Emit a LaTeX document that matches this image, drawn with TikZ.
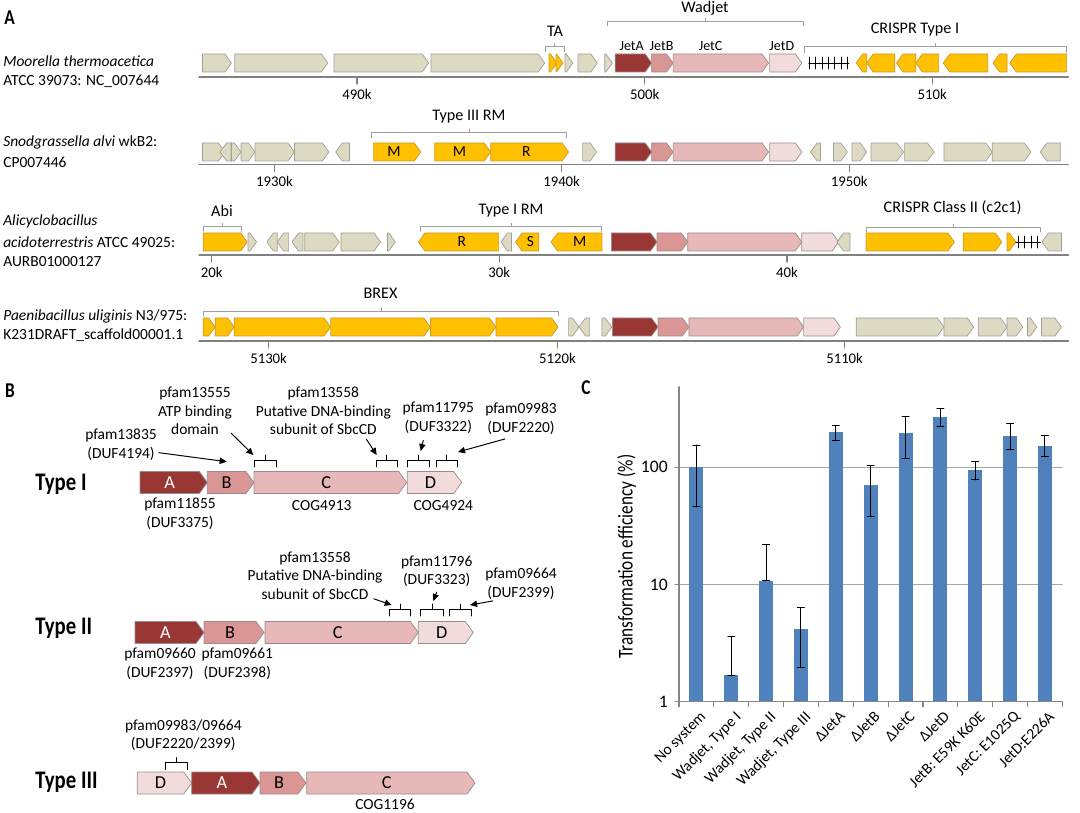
\documentclass[tikz,border=0pt]{standalone}
\usepackage{fontspec}
\setmainfont{Carlito}
\newfontfamily\condfont[FakeStretch=0.82]{Carlito}
\usetikzlibrary{arrows.meta}

\definecolor{genegray}{HTML}{DDD9C3}
\definecolor{geneedge}{HTML}{A19E92}
\definecolor{sysyellow}{HTML}{FFC000}
\definecolor{yellowedge}{HTML}{C99A2E}
\definecolor{jetAcol}{HTML}{993735}
\definecolor{jetBcol}{HTML}{D99694}
\definecolor{jetCcol}{HTML}{E6B9B8}
\definecolor{jetDcol}{HTML}{F2DCDB}
\definecolor{jetedge}{HTML}{9C8A8A}
\definecolor{barblue}{HTML}{4F81BD}
\definecolor{gridgray}{HTML}{A6A6A6}
\definecolor{axisgray}{HTML}{868686}

\tikzset{
  gy/.style={draw=geneedge, fill=genegray, line width=0.5pt},
  yl/.style={draw=yellowedge, fill=sysyellow, line width=0.5pt},
  ja/.style={draw=jetedge, fill=jetAcol, line width=0.5pt},
  jb/.style={draw=jetedge, fill=jetBcol, line width=0.5pt},
  jc/.style={draw=jetedge, fill=jetCcol, line width=0.5pt},
  jd/.style={draw=jetedge, fill=jetDcol, line width=0.5pt},
  genelbl/.style={inner sep=0pt, font=\glfont},
  chrom/.style={draw=gray, line width=0.9pt},
  crarr/.style={draw=black, line width=0.6pt},
  brkA/.style={draw=gray!75, line width=0.6pt},
  brkB/.style={draw=black, line width=0.7pt},
  ptr/.style={-{Triangle[length=5pt,width=4.5pt]}, line width=0.7pt},
  panel/.style={inner sep=0pt, font=\fontsize{15}{17}\condfont\bfseries},
  org/.style={inner sep=0pt, anchor=west, font=\fontsize{11}{13}\selectfont},
  ticklbl/.style={inner sep=0pt, font=\fontsize{10.5}{12}\selectfont},
  syslbl/.style={inner sep=0pt, font=\fontsize{11.5}{13}\selectfont},
  jetlbl/.style={inner sep=0pt, font=\fontsize{10}{12}\selectfont},
  lblB/.style={inner sep=0pt, align=center, font=\fontsize{11}{13.2}\selectfont},
  typelbl/.style={inner sep=0pt, anchor=west, font=\fontsize{18}{20}\condfont\bfseries},
  gridln/.style={draw=gridgray, line width=0.8pt},
  axisC/.style={draw=axisgray, line width=0.8pt},
  barC/.style={fill=barblue},
  errC/.style={draw=black, line width=0.7pt},
  ylblC/.style={inner sep=0pt, anchor=east, font=\fontsize{12.5}{14}\selectfont},
  xlblC/.style={inner sep=0pt, anchor=north east, rotate=45, font=\fontsize{11}{13}\selectfont},
}

\newcounter{genecnt}
% 遺伝子の矢印 [ラベル]{スタイル}{始点x}{先端x}{中心y}
\newcommand{\gene}[5][]{%
  \pgfmathsetmacro{\glen}{#4-(#3)}%
  \pgfmathsetmacro{\hlen}{((\glen>0)*2-1)*min(\genk,abs(\glen))}%
  \pgfmathsetmacro{\xbk}{#4-(\hlen)}%
  \pgfmathsetmacro{\xmid}{(#3+\xbk)/2}%
  \draw[#2] (#3,#5-\genh) -- (\xbk,#5-\genh) -- (#4,#5) -- (\xbk,#5+\genh) -- (#3,#5+\genh) -- cycle;
  \stepcounter{genecnt}%
  \node[genelbl] (gene\arabic{genecnt}) at (\xmid,#5) {#1};%
}
% 括弧 [スタイル]{x1}{x2}{y}{足}{突起}
\newcommand{\sysbrace}[6][]{%
  \draw[#1] (#2,#4+#5) -- (#2,#4) -- (#3,#4) -- (#3,#4+#5);
  \draw[#1] ({(#2+#3)/2},#4) -- ({(#2+#3)/2},#4-#6);
}
% 棒グラフ {番号}{値}{下}{上}
\newcommand{\effbar}[4]{%
  \pgfmathsetmacro{\bx}{679+34.85*(#1+0.5)}%
  \pgfmathsetmacro{\yv}{701.7-117.2*log10(#2)}%
  \pgfmathsetmacro{\ylo}{701.7-117.2*log10(#3)}%
  \pgfmathsetmacro{\yhi}{701.7-117.2*log10(#4)}%
  \fill[barC] (\bx-7,701.7) rectangle (\bx+7,\yv);
  \draw[errC] (\bx,\ylo) -- (\bx,\yhi) (\bx-3.5,\ylo) -- (\bx+3.5,\ylo) (\bx-3.5,\yhi) -- (\bx+3.5,\yhi);
}

\begin{document}
\begin{tikzpicture}[x=0.025cm, y=-0.025cm, line cap=round, line join=round]
\useasboundingbox (0,0) rectangle (1080,813);

% ===== A =====
\node[panel] (labA) at (9.5,18) {A};
\def\genh{9}\def\genk{6.5}\def\glfont{\fontsize{11}{12}\selectfont}

% --- Moorella ---
\node[org] (org1a) at (3,61) {\textit{Moorella thermoacetica}};
\node[org] (org1b) at (3,81.6) {ATCC 39073: NC\_007644};
\draw[chrom] (199,77) -- (1068.4,77);
\draw[chrom] (357,77) -- (357,84) (644.7,77) -- (644.7,84) (932.3,77) -- (932.3,84);
\node[ticklbl] (k490) at (357,94) {490k};
\node[ticklbl] (k500) at (644.7,94) {500k};
\node[ticklbl] (k510) at (932.3,94) {510k};
\gene{gy}{202.5}{231.4}{63}
\gene{gy}{234.8}{327.8}{63}
\gene{gy}{334}{428.7}{63}
\gene{gy}{431}{544.7}{63}
\gene{yl}{549}{557}{63}
\gene{yl}{556}{563}{63}
\gene{gy}{565}{572.8}{63}
\gene{gy}{578}{597.3}{63}
\gene{gy}{604.7}{612.4}{63}
\gene{ja}{615.2}{651.7}{63}
\gene{jb}{651.7}{673.1}{63}
\gene{jc}{673.1}{768.5}{63}
\gene{jd}{769.6}{801.8}{63}
% CRISPR配列
\draw[crarr] (808.8,63) -- (849,63);
\draw[crarr] (809.5,57) -- (809.5,69) (815.9,57) -- (815.9,69) (822.2,57) -- (822.2,69)
  (828.5,57) -- (828.5,69) (834.8,57) -- (834.8,69) (841.5,57) -- (841.5,69) (847.8,57) -- (847.8,69);
\gene{yl}{866.7}{856.2}{63}
\gene{yl}{894.8}{866.7}{63}
\gene{yl}{915.8}{896.5}{63}
\gene{yl}{938.6}{915.8}{63}
\gene{yl}{987.7}{943.2}{63}
\gene{yl}{1007}{993}{63}
\gene{yl}{1066.6}{1009.8}{63}
% ラベル
\sysbrace[brkA]{545.8}{564}{46.6}{5}{3}
\node[syslbl] (ta) at (555,31.6) {TA};
\sysbrace[brkA]{607}{803}{21}{5}{3}
\node[syslbl] (wadjet) at (705,8) {Wadjet};
\node[jetlbl] (jetA) at (631.7,45.6) {JetA};
\node[jetlbl] (jetB) at (661.5,45.6) {JetB};
\node[jetlbl] (jetC) at (710.6,45.6) {JetC};
\node[jetlbl] (jetD) at (781.8,45.6) {JetD};
\sysbrace[brkA]{804}{1066.6}{46.6}{6}{3}
\node[syslbl] (crispr1) at (915,29.8) {CRISPR Type I};

% --- Snodgrassella ---
\node[org] (org2a) at (3,142.4) {\textit{Snodgrassella alvi} wkB2:};
\node[org] (org2b) at (3,162) {CP007446};
\draw[chrom] (199,164.5) -- (1068.4,164.5);
\draw[chrom] (274.4,164.5) -- (274.4,171.5) (561.6,164.5) -- (561.6,171.5) (849.2,164.5) -- (849.2,171.5);
\node[ticklbl] (k1930) at (274.4,181.5) {1930k};
\node[ticklbl] (k1940) at (561.6,181.5) {1940k};
\node[ticklbl] (k1950) at (849.2,181.5) {1950k};
\gene{gy}{202.5}{225}{152}
\gene{gy}{231}{220}{152}
\draw[crarr] (231,143) -- (231,161);
\gene{gy}{231.5}{241}{152}
\gene{gy}{241}{255}{152}
\gene{gy}{255}{294.4}{152}
\gene{gy}{294.4}{328.9}{152}
\gene{gy}{349.5}{335.7}{152}
\gene[M]{yl}{373.6}{420.8}{152}
\gene[M]{yl}{434.6}{490.7}{152}
\gene[R]{yl}{490.7}{568.6}{152}
\gene{gy}{582.6}{596.6}{152}
\gene{ja}{615.2}{651.7}{152}
\gene{jb}{651.7}{673.1}{152}
\gene{jc}{673.1}{768.5}{152}
\gene{jd}{769.6}{801.8}{152}
\gene{gy}{820.4}{810.6}{152}
\gene{gy}{833.4}{847.4}{152}
\gene{gy}{852}{866.7}{152}
\gene{gy}{870.9}{903.5}{152}
\gene{gy}{904.6}{934}{152}
\gene{gy}{943.9}{992.3}{152}
\gene{gy}{992.3}{1030.9}{152}
\gene{gy}{1060.3}{1040.3}{152}
\sysbrace[brkA]{371.9}{566.8}{132}{6}{3}
\node[syslbl] (rm3) at (469,117) {Type III RM};

% --- Alicyclobacillus ---
\node[org] (org3a) at (3,221) {\textit{Alicyclobacillus}};
\node[org] (org3b) at (3,241.8) {\textit{acidoterrestris} ATCC 49025:};
\node[org] (org3c) at (3,261.4) {AURB01000127};
\draw[chrom] (199,255) -- (1068.4,255);
\draw[chrom] (211.8,255) -- (211.8,262) (499.3,255) -- (499.3,262) (787,255) -- (787,262);
\node[ticklbl] (k20) at (211.8,272) {20k};
\node[ticklbl] (k30) at (499.3,272) {30k};
\node[ticklbl] (k40) at (787,272) {40k};
\gene{yl}{203.2}{247.2}{242}
\gene{gy}{248}{256.5}{242}
\gene{gy}{277.2}{266.9}{242}
\gene{gy}{288.6}{277.2}{242}
\gene{gy}{303}{292}{242}
\gene{gy}{304.8}{339.2}{242}
\gene{gy}{340.9}{380.5}{242}
\gene{gy}{387.4}{395.3}{242}
\gene[R]{yl}{498.6}{418.4}{242}
\gene{gy}{511.4}{501}{242}
\gene[S]{yl}{538.8}{515.5}{242}
\gene[M]{yl}{601.9}{551}{242}
\gene{ja}{611.4}{657}{242}
\gene{jb}{657}{687.8}{242}
\gene{jc}{687.8}{801.8}{242}
\gene{jd}{801.8}{838.7}{242}
\gene{gy}{850}{837}{242}
\gene{yl}{866}{954.4}{242}
\gene{yl}{963.2}{1001.8}{242}
\gene{yl}{1007}{1015.8}{242}
\draw[crarr] (1015.8,242) -- (1040.3,242);
\draw[crarr] (1018,236) -- (1018,248) (1024.5,236) -- (1024.5,248) (1031,236) -- (1031,248) (1037.5,236) -- (1037.5,248);
\gene{gy}{1061.4}{1042}{242}
\sysbrace[brkA]{203.2}{241}{226.3}{5}{3}
\node[syslbl] (abi) at (222,210.8) {Abi};
\sysbrace[brkA]{420}{601.9}{226.3}{5}{3}
\node[syslbl] (rm1) at (511,211) {Type I RM};
\sysbrace[brkA]{866}{1040.3}{227}{5}{3}
\node[syslbl] (crispr2) at (952.6,207.8) {CRISPR Class II (c2c1)};

% --- Paenibacillus ---
\node[org] (org4a) at (3,316) {\textit{Paenibacillus uliginis} N3/975:};
\node[org] (org4b) at (3,335.1) {K231DRAFT\_scaffold00001.1};
\draw[chrom] (199,341) -- (1068.4,341);
\draw[chrom] (268.6,341) -- (268.6,348) (557.4,341) -- (557.4,348) (844.6,341) -- (844.6,348);
\node[ticklbl] (k5130) at (268.6,358) {5130k};
\node[ticklbl] (k5120) at (557.4,358) {5120k};
\node[ticklbl] (k5110) at (844.6,358) {5110k};
\gene{yl}{203.2}{215.2}{327}
\gene{yl}{215.2}{234.2}{327}
\gene{yl}{234.2}{330.6}{327}
\gene{yl}{330.6}{430.4}{327}
\gene{yl}{430.4}{495.9}{327}
\gene{yl}{495.9}{558.1}{327}
\gene{gy}{568.6}{579}{327}
\gene{gy}{589.6}{579}{327}
\gene{gy}{601.9}{611.7}{327}
\gene{ja}{612.4}{658}{327}
\gene{jb}{658}{688.9}{327}
\gene{jc}{688.9}{803.6}{327}
\gene{jd}{803.6}{840.4}{327}
\gene{gy}{856.2}{943.9}{327}
\gene{gy}{943.9}{973.7}{327}
\gene{gy}{978.3}{1007}{327}
\gene{gy}{1007}{1022.8}{327}
\gene{gy}{1027.4}{1036.8}{327}
\gene{gy}{1041.4}{1061.4}{327}
\sysbrace[brkA]{203.2}{558.8}{311}{5}{3}
\node[syslbl] (brex) at (380.5,293.8) {BREX};

% ===== B =====
\node[panel] (labB) at (10,391) {B};
\def\genh{11}\def\genk{8}\def\glfont{\fontsize{13}{14}\selectfont}

% --- Type I ---
\node[typelbl] (typeI) at (35,484) {Type I};
\gene[\textcolor{white}{A}]{ja}{140}{207.3}{482.5}
\gene[B]{jb}{207.3}{254}{482.5}
\gene[C]{jc}{254}{406.7}{482.5}
\gene[D]{jd}{407.3}{461.7}{482.5}
\sysbrace[brkB]{254}{276}{460}{7}{5}
\sysbrace[brkB]{376}{397.3}{460}{7}{5}
\sysbrace[brkB]{407.3}{429.3}{460}{7}{5}
\sysbrace[brkB]{436}{457.3}{460}{7}{5}
\node[lblB] (pf11855) at (180,513.6) {pfam11855\\(DUF3375)};
\node[lblB] (cog4913) at (321.7,505.7) {COG4913};
\node[lblB] (cog4924) at (443.3,505.7) {COG4924};
\node[lblB] (pf13835) at (121,444.7) {pfam13835\\(DUF4194)};
\node[lblB] (pf13555) at (195,410.9) {pfam13555\\ATP binding\\domain};
\node[lblB] (pf13558a) at (323.3,410.9) {pfam13558\\Putative DNA-binding\\subunit of SbcCD};
\node[lblB] (pf11795) at (438.3,417.5) {pfam11795\\(DUF3322)};
\node[lblB] (pf09983) at (521,419) {pfam09983\\(DUF2220)};
\coordinate (tgB1) at (226.7,461.7);
\coordinate (tgC1) at (253.3,455);
\coordinate (tgC2) at (376.7,455);
\coordinate (tgD1) at (420.7,451);
\coordinate (tgD2) at (458,452);
\draw[ptr] (pf13835.east) ++(2,8) -- (tgB1);
\draw[ptr] (pf13555.south east) ++(-1,-2) -- (tgC1);
\draw[ptr] (pf13558a.south) ++(43,4) -- (tgC2);
\draw[ptr] (pf11795.south) ++(-15,7) -- (tgD1);
\draw[ptr] (pf09983.south) ++(-16,4) -- (tgD2);

% --- Type II ---
\node[typelbl] (typeII) at (35,628.3) {Type II};
\gene[\textcolor{white}{A}]{ja}{135}{204}{632.5}
\gene[B]{jb}{204}{264}{632.5}
\gene[C]{jc}{265}{418.3}{632.5}
\gene[D]{jd}{418.3}{473.3}{632.5}
\sysbrace[brkB]{389.3}{410.7}{609}{7}{5}
\sysbrace[brkB]{420.7}{443.3}{609}{7}{5}
\sysbrace[brkB]{449.3}{471.7}{609}{7}{5}
\node[lblB] (pf09660) at (160,663.8) {pfam09660\\(DUF2397)};
\node[lblB] (pf09661) at (237.3,663.8) {pfam09661\\(DUF2398)};
\node[lblB] (pf13558b) at (315,575.6) {pfam13558\\Putative DNA-binding\\subunit of SbcCD};
\node[lblB] (pf11796) at (436.7,571.2) {pfam11796\\(DUF3323)};
\node[lblB] (pf09664) at (521,584) {pfam09664\\(DUF2399)};
\coordinate (tgC3) at (391.7,605);
\coordinate (tgD3) at (433.3,601);
\coordinate (tgD4) at (470,605);
\draw[ptr] (pf13558b.south east) ++(-9,-1) -- (tgC3);
\draw[ptr] (pf11796.south) ++(0,5) -- (tgD3);
\draw[ptr] (pf09664.south) ++(-28,1) -- (tgD4);

% --- Type III ---
\node[typelbl] (typeIII) at (35,782.3) {Type III};
\gene[D]{jd}{137.3}{191.7}{783}
\gene[\textcolor{white}{A}]{ja}{191.7}{260}{783}
\gene[B]{jb}{260}{306}{783}
\gene[C]{jc}{306.7}{475}{783}
\sysbrace[brkB]{165.7}{187.7}{762.7}{7}{5}
\node[lblB] (pf0998309664) at (183.3,735) {pfam09983/09664\\(DUF2220/2399)};
\node[lblB] (cog1196) at (385,804) {COG1196};

% ===== C =====
\node[panel] (labC) at (586,388) {C};
\draw[gridln] (679,467.3) -- (1062.3,467.3);
\draw[gridln] (679,584.5) -- (1062.3,584.5);
% 棒
\effbar{0}{100}{46}{155}
\effbar{1}{1.69}{1.69}{3.59}
\effbar{2}{10.8}{10.8}{22}
\effbar{3}{4.15}{1.95}{6.34}
\effbar{4}{199}{171}{226}
\effbar{5}{70.6}{38.4}{104}
\effbar{6}{195}{119}{270}
\effbar{7}{270}{225}{319}
\effbar{8}{94.8}{78}{112}
\effbar{9}{186}{141}{237}
\effbar{10}{153}{123}{186}
% 軸
\draw[axisC] (679,386.7) -- (679,701.7) -- (1062.3,701.7);
\draw[axisC] (675,467.3) -- (679,467.3) (675,584.5) -- (679,584.5) (675,701.7) -- (679,701.7);
\draw[axisC] (679,701.7) -- (679,706.7) (713.85,701.7) -- (713.85,706.7) (748.7,701.7) -- (748.7,706.7)
  (783.55,701.7) -- (783.55,706.7) (818.4,701.7) -- (818.4,706.7) (853.25,701.7) -- (853.25,706.7)
  (888.1,701.7) -- (888.1,706.7) (922.95,701.7) -- (922.95,706.7) (957.8,701.7) -- (957.8,706.7)
  (992.65,701.7) -- (992.65,706.7) (1027.5,701.7) -- (1027.5,706.7) (1062.35,701.7) -- (1062.35,706.7);
\node[ylblC] (y100) at (668,467.3) {100};
\node[ylblC] (y10) at (668,584.5) {10};
\node[ylblC] (y1) at (668,701.7) {1};
\node[inner sep=0pt, rotate=90, font=\fontsize{15}{17}\condfont] (ytitle) at (626.7,556.7) {Transformation efficiency (\%)};
\node[xlblC] (xl0) at (699.4,710) {No system};
\node[xlblC] (xl1) at (734.3,710) {Wadjet, Type I};
\node[xlblC] (xl2) at (769.1,710) {Wadjet, Type II};
\node[xlblC] (xl3) at (804,710) {Wadjet, Type III};
\node[xlblC] (xl4) at (838.8,710) {ΔJetA};
\node[xlblC] (xl5) at (873.7,710) {ΔJetB};
\node[xlblC] (xl6) at (908.5,710) {ΔJetC};
\node[xlblC] (xl7) at (943.4,710) {ΔJetD};
\node[xlblC] (xl8) at (978.2,710) {JetB: E59K K60E};
\node[xlblC] (xl9) at (1013.1,710) {JetC: E1025Q};
\node[xlblC] (xl10) at (1047.9,710) {JetD:E226A};
\end{tikzpicture}
\end{document}
